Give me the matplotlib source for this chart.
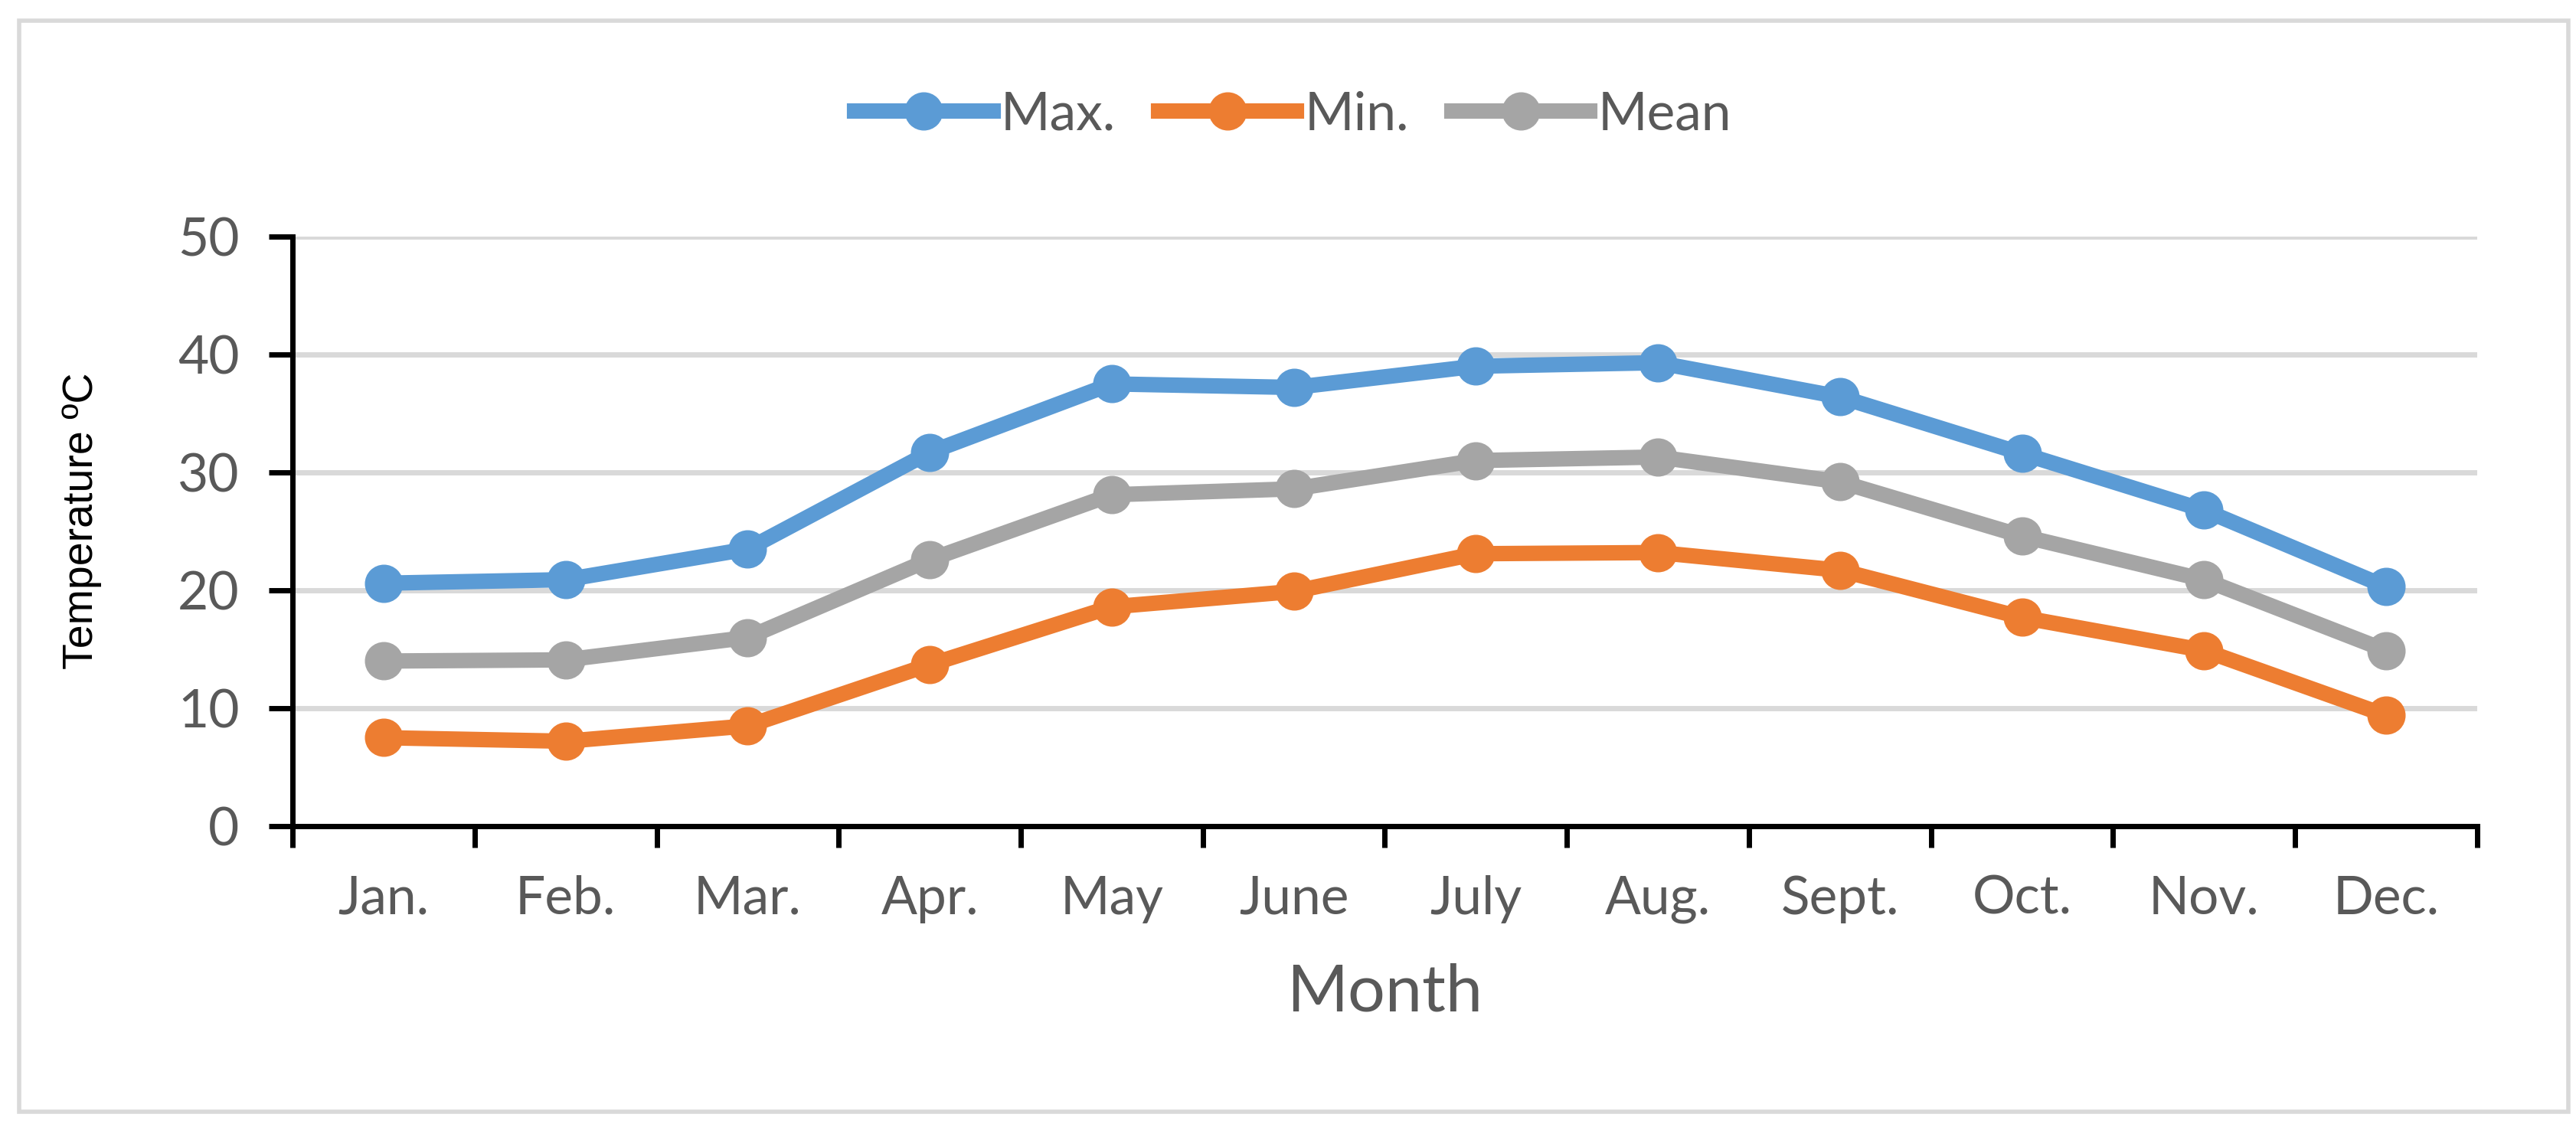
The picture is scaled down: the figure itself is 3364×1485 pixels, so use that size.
import matplotlib.pyplot as plt
import matplotlib.patches as patches
import numpy as np

months = ["Jan.", "Feb.", "Mar.", "Apr.", "May", "June", "July", "Aug.", "Sept.", "Oct.", "Nov.", "Dec."]
t_max = [20.6, 20.9, 23.5, 31.7, 37.5, 37.2, 39.0, 39.3, 36.4, 31.6, 26.8, 20.3]
t_min = [7.5, 7.2, 8.5, 13.7, 18.6, 19.9, 23.1, 23.2, 21.7, 17.7, 14.9, 9.4]
t_mean = [14.0, 14.1, 16.0, 22.6, 28.1, 28.6, 31.0, 31.3, 29.2, 24.6, 20.9, 14.9]

def main():
    font = 'Lato'
    grey_txt = "#595959"

    fig = plt.figure(figsize=(33.64, 14.85), dpi=100)
    ax = fig.add_axes([0.1136, 0.2734, 0.848, 0.5186])

    x = np.arange(len(months))
    ax.plot(x, t_max, color="#5B9BD5", lw=14.5, marker="o", ms=35, label="Max.")
    ax.plot(x, t_min, color="#ED7D31", lw=14.5, marker="o", ms=35, label="Min.")
    ax.plot(x, t_mean, color="#A5A5A5", lw=14.5, marker="o", ms=35, label="Mean")

    ax.set_xlim(-0.5, 11.5)
    ax.set_ylim(0, 50)
    ax.set_yticks(range(0, 51, 10))
    ax.yaxis.grid(True, color="#D9D9D9", lw=5)
    ax.set_axisbelow(True)

    # ticks on the category borders, labels in the middle
    ax.set_xticks(np.arange(-0.5, 12, 1))
    ax.set_xticklabels([])
    ax.set_xticks(x, minor=True)
    ax.set_xticklabels(months, minor=True, fontsize=50, color=grey_txt, family=font)
    ax.tick_params(axis="x", which="minor", length=0, pad=46)
    ax.tick_params(axis="x", which="major", length=20, width=5, direction="out")
    ax.tick_params(axis="y", length=22, width=5, direction="out", labelsize=50,
                   labelcolor=grey_txt, pad=28)
    for lab in ax.get_yticklabels():
        lab.set_family(font)

    for s in ["top", "right"]:
        ax.spines[s].set_visible(False)
    ax.spines["left"].set_linewidth(5)
    ax.spines["bottom"].set_linewidth(5)

    fig.text(0.5375, 0.127, "Month", fontsize=62, color=grey_txt, family=font,
             ha="center", va="center")
    fig.text(0.0318, 0.542, "Temperature \u00baC", fontsize=40, color="black",
             family="Liberation Sans", rotation=90, ha="center", va="center")

    leg = fig.legend(loc="center", bbox_to_anchor=(0.502, 0.899), ncol=3, frameon=False,
                     handlelength=2.6, handletextpad=0.15, columnspacing=0.8,
                     prop={"family": font, "size": 50})
    for t in leg.get_texts():
        t.set_color(grey_txt)

    border = patches.Rectangle((0.0075, 0.022), 0.9895, 0.96, transform=fig.transFigure,
                               fill=False, edgecolor="#D9D9D9", lw=4)
    fig.patches.append(border)

    fig.savefig("out.png", dpi=100, facecolor="white")

main()
